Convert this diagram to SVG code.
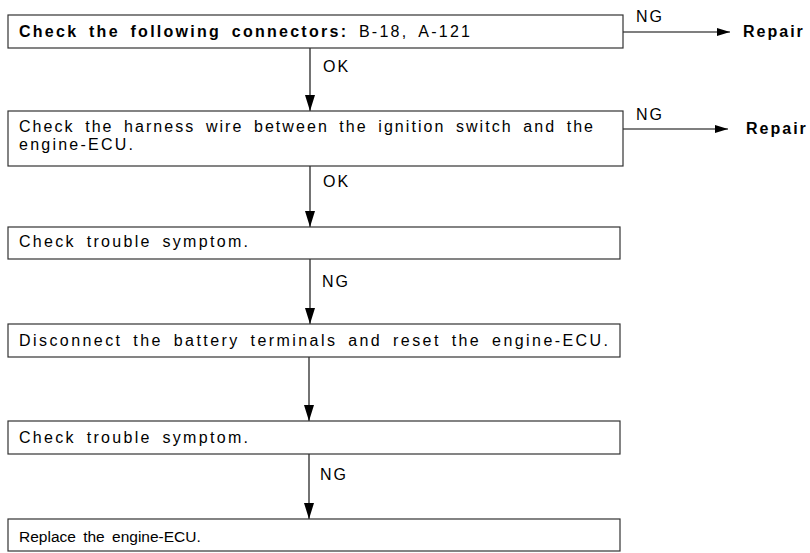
<svg xmlns="http://www.w3.org/2000/svg" width="810" height="553" viewBox="0 0 810 553">
<style>
.box{fill:#fff;stroke:#333;stroke-width:1.2}
.t{font-family:"Liberation Sans",Arial,sans-serif;font-size:16px;word-spacing:4px;fill:#000}
.l{letter-spacing:2px}
.b{font-weight:bold}
.ln{stroke:#000;stroke-width:1.1;fill:none}
</style>
<defs>
<marker id="ah" viewBox="0 0 16 10" refX="16" refY="5" markerWidth="16" markerHeight="10" markerUnits="userSpaceOnUse" orient="auto">
<path d="M0,0 L16,5 L0,10 z" fill="#000"/>
</marker>
<marker id="ahh" viewBox="0 0 13 8" refX="13" refY="4" markerWidth="13" markerHeight="8" markerUnits="userSpaceOnUse" orient="auto">
<path d="M0,0 L13,4 L0,8 z" fill="#000"/>
</marker>
</defs>
<g id="connectors">
<line class="ln" x1="310" y1="48" x2="310" y2="111" marker-end="url(#ah)"/>
<line class="ln" x1="310" y1="166" x2="310" y2="227" marker-end="url(#ah)"/>
<line class="ln" x1="310" y1="259" x2="310" y2="324" marker-end="url(#ah)"/>
<line class="ln" x1="309" y1="357" x2="309" y2="421" marker-end="url(#ah)"/>
<line class="ln" x1="309" y1="454" x2="309" y2="519" marker-end="url(#ah)"/>
<line class="ln" x1="623" y1="32" x2="730" y2="32" marker-end="url(#ahh)"/>
<line class="ln" x1="623" y1="129" x2="728" y2="129" marker-end="url(#ahh)"/>
<text class="t l" x="323" y="72">OK</text>
<text class="t l" x="323" y="187">OK</text>
<text class="t l" x="322" y="287">NG</text>
<text class="t l" x="320" y="480">NG</text>
<text class="t l" x="636" y="22">NG</text>
<text class="t l" x="636" y="120">NG</text>
</g>
<g id="n1">
<rect class="box" x="8" y="15" width="615" height="33"/>
<text class="t" x="19" y="37" textLength="451" lengthAdjust="spacing"><tspan class="b">Check the following connectors:</tspan> B-18, A-121</text>
</g>
<g id="repair1">
<text class="t b l" x="743" y="37">Repair</text>
</g>
<g id="n2">
<rect class="box" x="8" y="111" width="615" height="55"/>
<text class="t" x="19" y="132" textLength="574" lengthAdjust="spacing">Check the harness wire between the ignition switch and the</text>
<text class="t" x="19" y="150" textLength="114" lengthAdjust="spacing">engine-ECU.</text>
</g>
<g id="repair2">
<text class="t b l" x="746" y="134">Repair</text>
</g>
<g id="n3">
<rect class="box" x="8" y="227" width="612" height="32"/>
<text class="t" x="19" y="247" textLength="229" lengthAdjust="spacing">Check trouble symptom.</text>
</g>
<g id="n4">
<rect class="box" x="8" y="324" width="612" height="33"/>
<text class="t" x="19" y="346" textLength="589" lengthAdjust="spacing">Disconnect the battery terminals and reset the engine-ECU.</text>
</g>
<g id="n5">
<rect class="box" x="8" y="421" width="612" height="33"/>
<text class="t" x="19" y="443" textLength="229" lengthAdjust="spacing">Check trouble symptom.</text>
</g>
<g id="n6">
<rect class="box" x="8" y="519" width="612" height="32"/>
<text class="t" x="19" y="542" style="font-size:15.5px;word-spacing:3px">Replace the engine-ECU.</text>
</g>
</svg>
